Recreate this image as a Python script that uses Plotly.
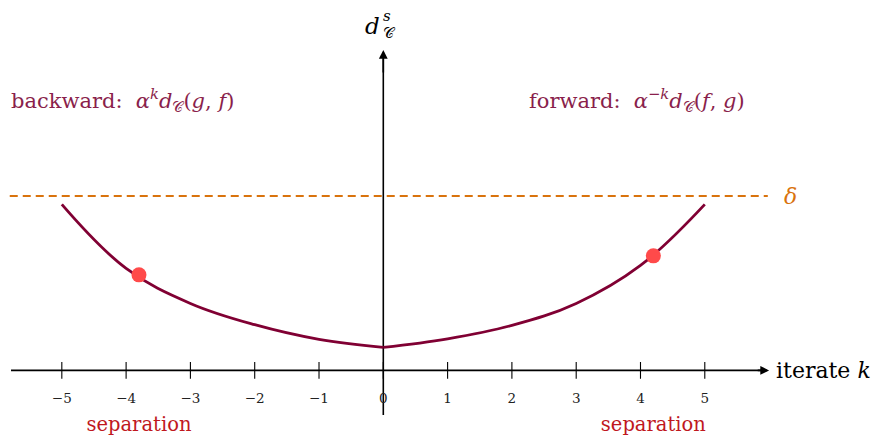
import plotly.graph_objects as go

# values (delta = 1)
k_backward = [-5, -4, -3, -2, -1, 0]
d_backward = [0.952, 0.585, 0.384, 0.262, 0.178, 0.132]
k_forward = [0, 1, 2, 3, 4, 5]
d_forward = [0.132, 0.181, 0.258, 0.384, 0.602, 0.952]
sep_k = [-3.8, 4.2]
sep_d = [0.548, 0.657]
delta = 1.0
tick_k = [-5, -4, -3, -2, -1, 0, 1, 2, 3, 4, 5]
tick_labels = ["\u22125", "\u22124", "\u22123", "\u22122", "\u22121", "0", "1", "2", "3", "4", "5"]

maroon = "#800033"
orange = "#D9730D"
red = "#C0181E"
dot = "#FF4A4A"
font = "DejaVu Serif"

fig = go.Figure()

# threshold delta
fig.add_trace(go.Scatter(x=[-5.81, 5.98], y=[delta, delta], mode="lines",
                         line=dict(color=orange, width=2, dash="8px,5px")))

# axes
fig.add_trace(go.Scatter(x=[-5.79, 5.9], y=[0, 0], mode="lines",
                         line=dict(color="black", width=1.6)))
fig.add_trace(go.Scatter(x=[0, 0], y=[-0.256, 1.79], mode="lines",
                         line=dict(color="black", width=1.6)))
fig.add_annotation(x=6.0, y=0, ax=5.8, ay=0, axref="x", ayref="y", text="",
                   showarrow=True, arrowhead=2, arrowsize=1.1, arrowwidth=1.6, arrowcolor="black")
fig.add_annotation(x=0, y=1.838, ax=0, ay=1.7, axref="x", ayref="y", text="",
                   showarrow=True, arrowhead=2, arrowsize=1.1, arrowwidth=1.6, arrowcolor="black")

# ticks and labels
fig.add_trace(go.Scatter(x=tick_k, y=[0] * len(tick_k), mode="markers",
                         marker=dict(symbol="line-ns", size=12, line=dict(color="black", width=1.1))))
fig.add_trace(go.Scatter(x=tick_k, y=[-0.165] * len(tick_k), mode="text", text=tick_labels,
                         textfont=dict(family=font, size=13.5, color="#222")))

# curves
fig.add_trace(go.Scatter(x=k_backward, y=d_backward, mode="lines",
                         line=dict(color=maroon, width=2.8, shape="spline", smoothing=1.1)))
fig.add_trace(go.Scatter(x=k_forward, y=d_forward, mode="lines",
                         line=dict(color=maroon, width=2.8, shape="spline", smoothing=1.1)))
fig.add_trace(go.Scatter(x=sep_k, y=sep_d, mode="markers",
                         marker=dict(color=dot, size=15)))
fig.add_trace(go.Scatter(x=sep_k, y=[-0.322, -0.322], mode="text", text=["separation", "separation"],
                         textfont=dict(family=font, size=19.5, color=red)))

# labels
lab = dict(family=font, size=21, color="#8A1F4C")
fig.add_annotation(x=-5.82, y=1.55, xanchor="left", showarrow=False, font=lab,
                   text="backward:  <i>\u03b1</i><sup><i>k</i></sup><i>d</i><sub>\U0001D49E</sub>(<i>g</i>, <i>f</i>)")
fig.add_annotation(x=2.23, y=1.55, xanchor="left", showarrow=False, font=lab,
                   text="forward:  <i>\u03b1</i><sup>\u2212<i>k</i></sup><i>d</i><sub>\U0001D49E</sub>(<i>f</i>, <i>g</i>)")
fig.add_annotation(x=6.2, y=delta, xanchor="left", showarrow=False,
                   font=dict(family=font, size=22, color=orange), text="<i>\u03b4</i>")
fig.add_annotation(x=6.07, y=0, xanchor="left", showarrow=False,
                   font=dict(family=font, size=22, color="black"), text="iterate <i>k</i>")

# y-axis label d_C^s, sub and sup stacked
fig.add_annotation(x=-0.02, y=1.975, xanchor="right", showarrow=False,
                   font=dict(family=font, size=23, color="black"), text="<i>d</i>")
fig.add_annotation(x=-0.03, y=2.03, xanchor="left", showarrow=False,
                   font=dict(family=font, size=15, color="black"), text="<i>s</i>")
fig.add_annotation(x=-0.03, y=1.935, xanchor="left", showarrow=False,
                   font=dict(family=font, size=15, color="black"), text="\U0001D49E")

# the page body adds an 8px margin, so the figure is 8px smaller and the ranges start 8px later
fig.update_layout(
    width=872, height=431, showlegend=False,
    margin=dict(l=0, r=0, t=0, b=0),
    plot_bgcolor="white", paper_bgcolor="white",
    xaxis=dict(range=[-5.837, 7.725], visible=False),
    yaxis=dict(range=[-0.3936, 2.0786], visible=False),
)

fig.write_html("out.html")
